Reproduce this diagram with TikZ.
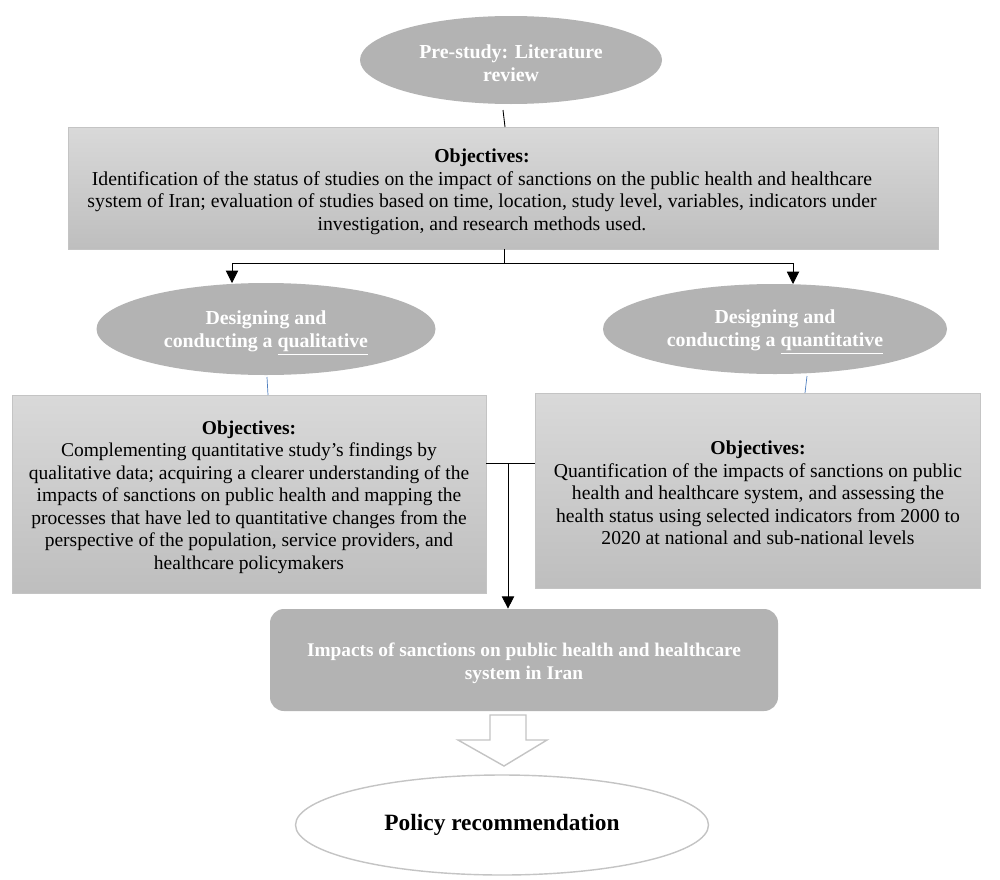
\documentclass[tikz,border=0pt]{standalone}
\usepackage{fontspec}
\setmainfont{Liberation Serif}
\usetikzlibrary{arrows.meta,shapes.geometric}
\def\px{0.02cm}
\definecolor{ellgray}{HTML}{B3B3B3}
\definecolor{boxtop}{HTML}{D9D9D9}
\definecolor{boxbot}{HTML}{BEBEBE}
\definecolor{boxline}{HTML}{C4C4C4}
\definecolor{blueln}{HTML}{4F7FBF}
\tikzset{
  grayell/.style={ellipse, fill=ellgray, draw=none, inner sep=0pt},
  whitetext/.style={text=white, align=center, font=\fontsize{11.3}{13}\selectfont\bfseries, inner sep=0pt},
  objbox/.style={rectangle, top color=boxtop, bottom color=boxbot, draw=boxline, inner sep=0pt},
  objtext/.style={align=center, font=\fontsize{11.1}{12.8}\selectfont, inner sep=0pt},
  arr/.style={-{Triangle[width=7pt,length=7pt]}, black, line width=0.5pt},
  ln/.style={black, line width=0.5pt},
  bln/.style={blueln, line width=0.4pt},
}
\begin{document}
\begin{tikzpicture}[x=0.02cm,y=-0.02cm]
\useasboundingbox (0,0) rectangle (1000,879);
\fill[white] (0,0) rectangle (1000,879);

% top ellipse
\node[grayell, minimum width=302*\px, minimum height=88*\px] (pre) at (511,60) {};
\node[whitetext] (pret) at (511,63) {Pre-study: Literature\\review};

% objectives box
\node[objbox, minimum width=870*\px, minimum height=122*\px] (obj) at (503,188) {};
\node[objtext, font=\fontsize{11.23}{12.8}\selectfont] (objt) at (482,192)
 {\textbf{Objectives:}\\
 Identification of the status of studies on the impact of sanctions on the public health and healthcare\\
 system of Iran; evaluation of studies based on time, location, study level, variables, indicators under\\
 investigation, and research methods used.};
\coordinate (c1) at (503,110);
\coordinate (c2) at (505,127);
\draw[ln] (c1) -- (c2);

% ellipses
\node[grayell, minimum width=339*\px, minimum height=92*\px] (qual) at (266,329) {};
\node[whitetext] (qualt) at (266,333) {Designing and\\conducting a \underline{qualitative}};
\node[grayell, minimum width=344*\px, minimum height=90*\px] (quan) at (775,329) {};
\node[whitetext] (quant) at (775,332) {Designing and\\conducting a \underline{quantitative}};

\coordinate (split) at (504,263);
\draw[ln] (obj.south -| split) -- (split);
\draw[arr] (split) -| (232,283);
\draw[arr] (split) -| (793,284);

% boxes
\node[objbox, minimum width=474*\px, minimum height=198*\px] (lbox) at (249,494) {};
\node[objtext] (lboxt) at (249,497)
 {\textbf{Objectives:}\\
 Complementing quantitative study’s findings by\\
 qualitative data; acquiring a clearer understanding of the\\
 impacts of sanctions on public health and mapping the\\
 processes that have led to quantitative changes from the\\
 perspective of the population, service providers, and\\
 healthcare policymakers};
\node[objbox, minimum width=445*\px, minimum height=195*\px] (rbox) at (758,491) {};
\node[objtext, font=\fontsize{11.2}{12.8}\selectfont] (rboxt) at (758,493)
 {\textbf{Objectives:}\\
 Quantification of the impacts of sanctions on public\\
 health and healthcare system, and assessing the\\
 health status using selected indicators from 2000 to\\
 2020 at national and sub-national levels};

\coordinate (q1) at (267,377);
\coordinate (q2) at (268,395);
\coordinate (r1) at (807,376);
\coordinate (r2) at (805,393);
\draw[bln] (q1) -- (q2);
\draw[bln] (r1) -- (r2);

% bottom box
\node[rectangle, rounded corners=14*\px, fill=ellgray, draw=none, minimum width=508*\px, minimum height=102*\px] (imp) at (524,660) {};
\node[whitetext, font=\fontsize{11}{13}\selectfont\bfseries] (impt) at (524,663)
  {Impacts of sanctions on public health and healthcare\\system in Iran};

\coordinate (j) at (508,463);
\draw[ln] (lbox.east |- j) -- (rbox.west |- j);
\draw[arr] (j) -- (imp.north -| j);

% hollow arrow
\draw[draw=boxline, fill=white, line width=0.8pt]
  (490,715) -- (526,715) -- (526,740) -- (547,740) -- (504,766) -- (458,740) -- (490,740) -- cycle;

% policy ellipse
\node[ellipse, draw=boxline, fill=white, line width=0.8pt, minimum width=413*\px, minimum height=100*\px,
  font=\fontsize{13.3}{16}\selectfont\bfseries, inner sep=0pt] (pol) at (502,825) {Policy recommendation};
\end{tikzpicture}
\end{document}
